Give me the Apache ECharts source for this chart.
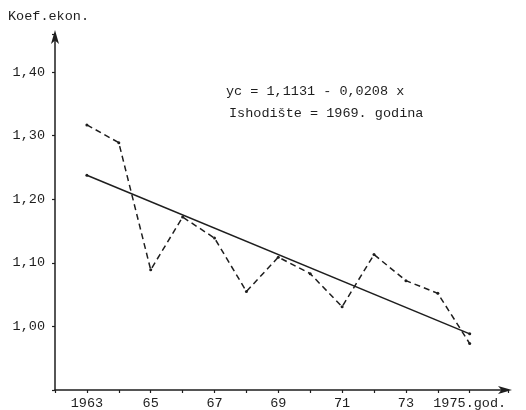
<!DOCTYPE html>
<html>
<head>
<meta charset="utf-8">
<script src="https://cdn.jsdelivr.net/npm/echarts@6/dist/echarts.min.js"></script>
<style>html,body{margin:0;padding:0;background:#fff}#c{width:526px;height:410px}</style>
</head>
<body>
<div id="c"></div>
<script>
const years = [1963,1964,1965,1966,1967,1968,1969,1970,1971,1972,1973,1974,1975];
const koef = [1.317,1.289,1.089,1.172,1.139,1.055,1.109,1.083,1.031,1.113,1.072,1.052,0.973];
const trendYears = [1963,1975];
const trendValues = [1.2379,0.9883];
const yTicks = [1.00,1.10,1.20,1.30,1.40];
const xLabelYears = [1963,1965,1967,1969,1971,1973,1975];

const font = '"Liberation Mono", "DejaVu Sans Mono", monospace';
const ink = '#1e1e1e';
const chart = echarts.init(document.getElementById('c'));
chart.setOption({
  backgroundColor: '#fff',
  animation: false,
  grid: {left: 55, right: 18, top: 34, bottom: 18, containLabel: false},
  xAxis: {
    type: 'value', min: 1962, max: 1976.2, interval: 1,
    splitLine: {show: false},
    axisLine: {lineStyle: {color: ink, width: 1.5}, symbol: ['none','arrow'], symbolSize: [6, 14], symbolOffset: [0, 4]},
    axisTick: {show: true, length: 3, inside: false, lineStyle: {color: ink, width: 1.2}},
    axisLabel: {
      color: ink, fontFamily: font, fontSize: 13.5, margin: 6,
      formatter: function (v) {
        v = Math.round(v);
        if (xLabelYears.indexOf(v) < 0) return '';
        if (v === 1963) return '1963';
        if (v === 1975) return '1975.god.';
        return String(v).slice(2);
      }
    }
  },
  yAxis: {
    type: 'value', min: 0.9, max: 1.46, interval: 0.1,
    splitLine: {show: false},
    axisLine: {lineStyle: {color: ink, width: 1.5}, symbol: ['none','arrow'], symbolSize: [6, 14], symbolOffset: [0, 4]},
    axisTick: {show: true, length: 3, lineStyle: {color: ink, width: 1.2}},
    axisLabel: {
      color: ink, fontFamily: font, fontSize: 13.5, margin: 10,
      formatter: function (v) {
        const r = Math.round(v * 100) / 100;
        if (!yTicks.some(t => Math.abs(t - r) < 1e-6)) return '';
        return r.toFixed(2).replace('.', ',');
      }
    }
  },
  graphic: [
    {type: 'text', left: 8, top: 9, style: {text: 'Koef.ekon.', font: '13.5px ' + font, fill: ink}},
    {type: 'text', left: 226, top: 84, style: {text: 'yc = 1,1131 - 0,0208 x', font: '13.5px ' + font, fill: ink}},
    {type: 'text', left: 229, top: 106, style: {text: 'Ishodište = 1969. godina', font: '13.5px ' + font, fill: ink}}
  ],
  series: [
    {
      type: 'line', data: years.map((y, i) => [y, koef[i]]),
      symbol: 'circle', symbolSize: 3, itemStyle: {color: ink},
      lineStyle: {color: ink, width: 1.5, type: [6, 4]}
    },
    {
      type: 'line', data: trendYears.map((y, i) => [y, trendValues[i]]),
      symbol: 'circle', symbolSize: 3, itemStyle: {color: ink},
      lineStyle: {color: ink, width: 1.5}
    }
  ]
});
</script>
</body>
</html>
